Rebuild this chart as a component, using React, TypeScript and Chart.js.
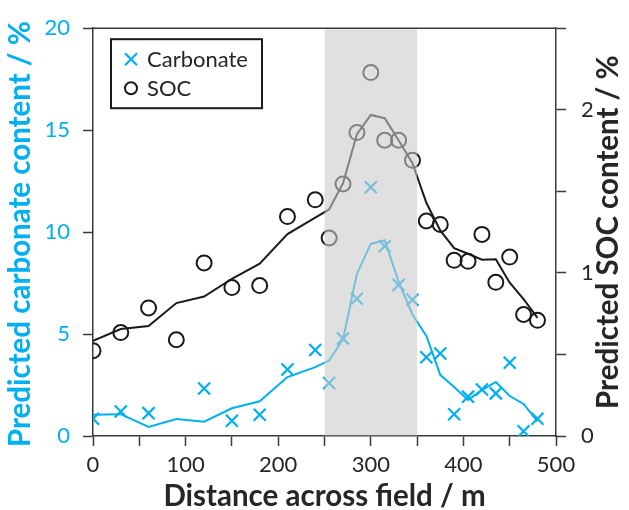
import React, { useEffect, useRef } from "react";
import { Chart, registerables } from "chart.js";

Chart.register(...registerables);

const distances = [0, 30, 60, 90, 120, 150, 180, 210, 240, 255, 270, 285, 300, 315, 330, 345, 360, 375, 390, 405, 420, 435, 450, 465, 480];
const carbonatePoints = [0.85, 1.2, 1.12, null, 2.33, 0.75, 1.04, 3.26, 4.22, 2.6, 4.78, 6.73, 12.2, 9.31, 7.41, 6.68, 3.86, 4.05, 1.07, 1.93, 2.28, 2.09, 3.59, 0.23, 0.85];
const carbonateTrend = [1.04, 1.07, 0.44, 0.83, 0.7, 1.36, 1.7, 2.89, 3.38, 3.7, 4.75, 7.95, 9.42, 9.6, 7.57, 5.96, 4.91, 3.0, 2.4, 1.77, 2.25, 2.65, 1.96, 1.57, 0.72];
const socPoints = [0.523, 0.634, 0.785, 0.59, 1.061, 0.91, 0.922, 1.345, 1.448, 1.214, 1.545, 1.86, 2.228, 1.813, 1.813, 1.69, 1.318, 1.297, 1.077, 1.071, 1.236, 0.942, 1.097, 0.745, 0.709];
const socTrend = [0.583, 0.656, 0.674, 0.815, 0.855, 0.964, 1.057, 1.238, 1.339, 1.389, 1.55, 1.85, 1.968, 1.948, 1.813, 1.672, 1.43, 1.26, 1.152, 1.117, 1.081, 1.083, 0.94, 0.839, 0.724];
const bandRange = [250, 350];
const xTickLabels = [0, 100, 200, 300, 400, 500];
const y2TickLabels = [0, 1, 2];
const legendLabels = ["Carbonate", "SOC"];
const xTitle = "Distance across field / m";
const yTitle = "Predicted carbonate content / %";
const y2Title = "Predicted SOC content / %";

const CYAN = "#00B0F0";
const DARK = "#262626";
const AXIS = "#3a3a3a";
const FONT = "Lato";

const toXY = (ys: (number | null)[]) => distances.map((x, i) => ({ x, y: ys[i] }));

const overlayPlugin = {
  id: "overlay",
  afterDatasetsDraw(chart: any) {
    const { ctx, chartArea, scales } = chart;
    const x = scales.x;
    ctx.save();
    // band
    const x0 = x.getPixelForValue(bandRange[0]);
    const x1 = x.getPixelForValue(bandRange[1]);
    ctx.fillStyle = "rgba(202,202,202,0.59)";
    ctx.fillRect(x0, chartArea.top + 1, x1 - x0, chartArea.bottom - chartArea.top - 1.5);
    // top border
    ctx.strokeStyle = AXIS;
    ctx.lineWidth = 1.5;
    ctx.beginPath();
    ctx.moveTo(chartArea.left, chartArea.top);
    ctx.lineTo(chartArea.right, chartArea.top);
    ctx.stroke();
    // legend
    const lx = chartArea.left + 18;
    const ly = chartArea.top + 11;
    ctx.lineWidth = 2;
    ctx.strokeStyle = "#1a1a1a";
    ctx.strokeRect(lx, ly, 151, 69);
    ctx.font = `22px ${FONT}`;
    ctx.fillStyle = DARK;
    ctx.textBaseline = "middle";
    ctx.textAlign = "left";
    const mx = lx + 20;
    const my1 = ly + 20;
    const my2 = ly + 49;
    ctx.strokeStyle = CYAN;
    ctx.lineWidth = 2.2;
    ctx.beginPath();
    ctx.moveTo(mx - 6, my1 - 6);
    ctx.lineTo(mx + 6, my1 + 6);
    ctx.moveTo(mx + 6, my1 - 6);
    ctx.lineTo(mx - 6, my1 + 6);
    ctx.stroke();
    ctx.fillText(legendLabels[0], mx + 16, my1 + 1);
    ctx.strokeStyle = "#1a1a1a";
    ctx.lineWidth = 2;
    ctx.beginPath();
    ctx.arc(mx, my2, 6, 0, Math.PI * 2);
    ctx.stroke();
    ctx.fillText(legendLabels[1], mx + 16, my2 + 1);
    ctx.restore();
  },
  afterDraw(chart: any) {
    const { ctx, chartArea } = chart;
    const cy = (chartArea.top + chartArea.bottom) / 2;
    const cx = (chartArea.left + chartArea.right) / 2;
    ctx.save();
    ctx.font = `bold 29.5px ${FONT}`;
    ctx.textAlign = "center";
    ctx.textBaseline = "middle";
    ctx.fillStyle = CYAN;
    ctx.save();
    ctx.translate(20, cy + 2);
    ctx.rotate(-Math.PI / 2);
    ctx.fillText(yTitle, 0, 0);
    ctx.restore();
    ctx.fillStyle = DARK;
    ctx.save();
    ctx.translate(608, cy);
    ctx.rotate(-Math.PI / 2);
    ctx.fillText(y2Title, 0, 0);
    ctx.restore();
    ctx.fillText(xTitle, cx, 496);
    ctx.restore();
  },
};

export default function App() {
  const ref = useRef<HTMLCanvasElement | null>(null);
  useEffect(() => {
    document.body.style.margin = "0";
    const canvas = ref.current;
    if (!canvas) return;
    const chart = new Chart(canvas, {
      type: "line",
      data: {
        datasets: [
          {
            label: legendLabels[0],
            data: toXY(carbonatePoints),
            yAxisID: "y",
            showLine: false,
            pointStyle: "crossRot",
            pointRadius: 8.5,
            pointBorderWidth: 2.2,
            borderColor: CYAN,
            backgroundColor: CYAN,
          },
          {
            label: "carbonate trend",
            data: toXY(carbonateTrend),
            yAxisID: "y",
            borderColor: CYAN,
            borderWidth: 2,
            pointRadius: 0,
            tension: 0,
          },
          {
            label: legendLabels[1],
            data: toXY(socPoints),
            yAxisID: "y2",
            showLine: false,
            pointStyle: "circle",
            pointRadius: 7.5,
            pointBorderWidth: 2,
            borderColor: "#1a1a1a",
            backgroundColor: "rgba(0,0,0,0)",
          },
          {
            label: "soc trend",
            data: toXY(socTrend),
            yAxisID: "y2",
            borderColor: "#1a1a1a",
            borderWidth: 2,
            pointRadius: 0,
            tension: 0,
          },
        ],
      },
      options: {
        responsive: false,
        animation: false,
        devicePixelRatio: 1,
        spanGaps: false,
        layout: { padding: { top: 23, left: 0, right: 0, bottom: 0 } },
        plugins: { legend: { display: false }, tooltip: { enabled: false } },
        scales: {
          x: {
            type: "linear",
            min: 0,
            max: 500,
            afterFit: (s: any) => { s.height = 74; },
            border: { display: true, color: AXIS, width: 1.5 },
            grid: { drawOnChartArea: false, drawTicks: true, tickLength: 10, tickColor: AXIS, tickWidth: 1.5 },
            ticks: {
              stepSize: 50,
              padding: 6,
              color: DARK,
              font: { family: FONT, size: 22 },
              maxRotation: 0,
              autoSkip: false,
              callback: (v: any) => (xTickLabels.includes(Number(v)) ? String(v) : ""),
            },
          },
          y: {
            type: "linear",
            position: "left",
            min: 0,
            max: 20,
            afterFit: (s: any) => { s.width = 93; },
            border: { display: true, color: AXIS, width: 1.5 },
            grid: { drawOnChartArea: false, drawTicks: true, tickLength: 10, tickColor: AXIS, tickWidth: 1.5 },
            ticks: { stepSize: 5, padding: 13, color: CYAN, font: { family: FONT, size: 22 } },
          },
          y2: {
            type: "linear",
            position: "right",
            min: 0,
            max: 2.5,
            afterFit: (s: any) => { s.width = 73; },
            border: { display: true, color: AXIS, width: 1.5 },
            grid: { drawOnChartArea: false, drawTicks: true, tickLength: 10, tickColor: AXIS, tickWidth: 1.5 },
            ticks: {
              stepSize: 0.5,
              padding: 15,
              color: DARK,
              font: { family: FONT, size: 22 },
              autoSkip: false,
              callback: (v: any) => (y2TickLabels.includes(Number(v)) ? String(v) : ""),
            },
          },
        },
      },
      plugins: [overlayPlugin],
    } as any);
    return () => chart.destroy();
  }, []);
  return (
    <div style={{ width: 629, height: 510 }}>
      <canvas ref={ref} width={629} height={510} style={{ display: "block" }} />
    </div>
  );
}
